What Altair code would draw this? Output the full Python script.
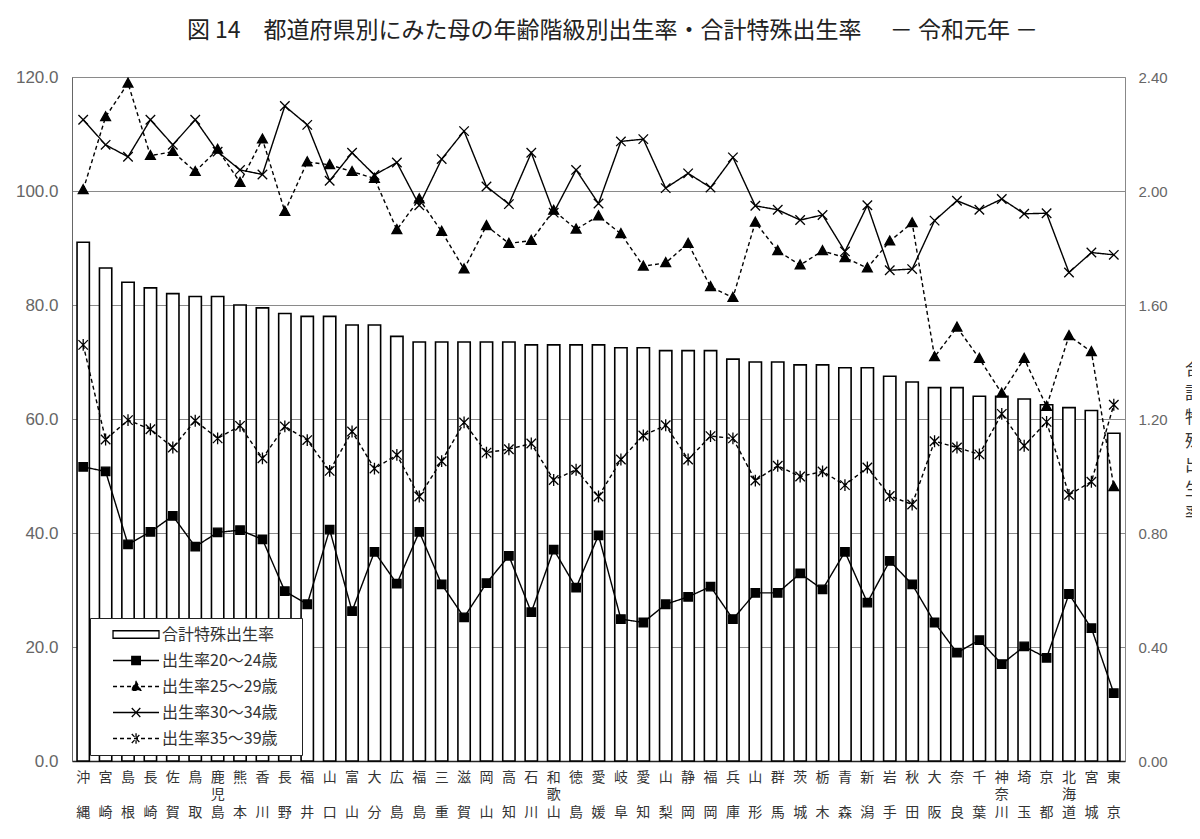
import altair as alt
import pandas as pd

prefs = ["沖縄", "宮崎", "島根", "長崎", "佐賀", "鳥取", "鹿児島", "熊本", "香川", "長野",
         "福井", "山口", "富山", "大分", "広島", "福島", "三重", "滋賀", "岡山", "高知",
         "石川", "和歌山", "徳島", "愛媛", "岐阜", "愛知", "山梨", "静岡", "福岡", "兵庫",
         "山形", "群馬", "茨城", "栃木", "青森", "新潟", "岩手", "秋田", "大阪", "奈良",
         "千葉", "神奈川", "埼玉", "京都", "北海道", "宮城", "東京"]

tfr = [1.82, 1.73, 1.68, 1.66, 1.64, 1.63, 1.63, 1.60, 1.59, 1.57,
       1.56, 1.56, 1.53, 1.53, 1.49, 1.47, 1.47, 1.47, 1.47, 1.47,
       1.46, 1.46, 1.46, 1.46, 1.45, 1.45, 1.44, 1.44, 1.44, 1.41,
       1.40, 1.40, 1.39, 1.39, 1.38, 1.38, 1.35, 1.33, 1.31, 1.31,
       1.28, 1.28, 1.27, 1.25, 1.24, 1.23, 1.15]

r20 = [51.6, 50.8, 38.0, 40.2, 43.0, 37.6, 40.1, 40.5, 38.9, 29.8,
       27.5, 40.6, 26.3, 36.7, 31.1, 40.2, 31.0, 25.2, 31.2, 36.0,
       26.1, 37.1, 30.4, 39.6, 24.9, 24.3, 27.5, 28.8, 30.6, 24.9,
       29.5, 29.5, 32.9, 30.1, 36.7, 27.8, 35.1, 31.0, 24.3, 19.0,
       21.2, 17.0, 20.1, 18.1, 29.3, 23.3, 11.9]

r25 = [100.2, 113.0, 118.9, 106.2, 106.9, 103.4, 107.3, 101.5, 109.1, 96.4,
       105.1, 104.6, 103.4, 102.2, 93.2, 98.6, 92.9, 86.3, 93.9, 90.8,
       91.3, 96.6, 93.3, 95.6, 92.5, 86.8, 87.4, 90.8, 83.2, 81.3,
       94.5, 89.5, 87.0, 89.5, 88.3, 86.5, 91.2, 94.4, 70.9, 76.1,
       70.6, 64.5, 70.6, 62.2, 74.6, 71.8, 48.1]

r30 = [112.5, 108.1, 106.0, 112.5, 108.1, 112.5, 106.9, 103.7, 102.9, 114.9,
       111.6, 101.8, 106.7, 102.8, 105.0, 97.5, 105.6, 110.5, 100.8, 97.7,
       106.7, 96.2, 103.7, 97.8, 108.7, 109.1, 100.5, 103.1, 100.6, 105.9,
       97.4, 96.7, 94.9, 95.8, 89.4, 97.5, 86.1, 86.3, 94.8, 98.3,
       96.7, 98.6, 96.0, 96.1, 85.7, 89.2, 88.8]

r35 = [73.0, 56.4, 59.8, 58.2, 55.0, 59.7, 56.6, 58.8, 53.1, 58.7,
       56.3, 50.9, 57.8, 51.3, 53.7, 46.4, 52.6, 59.4, 54.1, 54.7,
       55.7, 49.3, 51.1, 46.4, 52.9, 57.1, 58.9, 52.9, 57.0, 56.6,
       49.2, 51.8, 49.9, 50.8, 48.4, 51.5, 46.5, 45.0, 56.1, 55.0,
       53.8, 60.9, 55.3, 59.5, 46.7, 49.0, 62.5]

series_names = ["合計特殊出生率", "出生率20～24歳", "出生率25～29歳", "出生率30～34歳", "出生率35～39歳"]
line_values = [r20, r25, r30, r35]

title_text = "図 14　都道府県別にみた母の年齢階級別出生率・合計特殊出生率　 －  令和元年  －"

FONT = "Noto Sans CJK JP"
NUMFONT = "Liberation Sans"

# marker shapes (unit paths)
marker_paths = [
    "M-1,-1H1V1H-1Z",
    "M0,-1.15L1.1,0.85H-1.1Z",
    "M-1,-1L1,1M-1,1L1,-1",
    "M-1,-1L1,1M-1,1L1,-1M0,-1.25V1.25",
]
marker_sizes = [72, 80, 90, 90]
dashes = [[1, 0], [4, 3], [1, 0], [4, 3]]

# legend symbol paths (line + marker)
legend_paths = [
    "M0.87,-0.5H7.0V0.5H0.87Z",
    "M0.87,0H7.0M3.37,-0.55H4.51V0.55H3.37Z",
    "M0.87,0H7.0M3.94,-0.65L4.57,0.5H3.31Z",
    "M0.87,0H7.0M3.37,-0.6L4.51,0.6M3.37,0.6L4.51,-0.6",
    "M0.87,0H7.0M3.37,-0.6L4.51,0.6M3.37,0.6L4.51,-0.6M3.94,-0.7V0.7",
]

ZW = "\u200b"
label_expr = ("length(datum.label) == 2 ? [substring(datum.label,0,1), '" + ZW + "', substring(datum.label,1,2)]"
              " : [substring(datum.label,0,1), substring(datum.label,1,2), substring(datum.label,2,3)]")

x_enc = alt.X(
    "pref:N", sort=prefs,
    scale=alt.Scale(paddingInner=0.45, paddingOuter=0.225),
    axis=alt.Axis(title=None, labelAngle=0, labelExpr=label_expr, labelFont=FONT,
                  labelFontSize=14, labelColor="#333", labelLineHeight=17.5,
                  labelPadding=9, labelOverlap=False, ticks=False,
                  domainColor="#222", domainWidth=1.5, labelBaseline="top"),
)

bar_df = pd.DataFrame({"pref": prefs, "tfr": tfr})

bars = alt.Chart(bar_df).mark_bar(fill="white", stroke="black", strokeWidth=1.6).encode(
    x=x_enc,
    y=alt.Y("tfr:Q", scale=alt.Scale(domain=[0, 2.4], nice=False),
            axis=alt.Axis(orient="right", values=[0, 0.4, 0.8, 1.2, 1.6, 2.0, 2.4], format=".2f",
                          grid=False, domain=False, ticks=False, labelPadding=13,
                          labelFont=NUMFONT, labelFontSize=15, labelColor="#666",
                          title=list("合計特殊出生率"), titleAngle=0, titleFont=FONT,
                          titleFontSize=17, titleFontWeight="normal", titleColor="#333",
                          titleLineHeight=24, titleAlign="center", titleBaseline="top",
                          titleX=68, titleY=284)),
)

y_line = alt.Y("value:Q", scale=alt.Scale(domain=[0, 120], nice=False),
               axis=alt.Axis(orient="left", values=[0, 20, 40, 60, 80, 100, 120], format=".1f",
                             grid=True, gridColor="#8a8a8a", gridWidth=1, domainColor="#666",
                             ticks=False, labelPadding=14, labelFont=NUMFONT, labelFontSize=17,
                             labelColor="#666", title=None))

line_layers = []
for i, name in enumerate(series_names[1:]):
    df = pd.DataFrame({"pref": prefs, "value": line_values[i], "series": name})
    base = alt.Chart(df).encode(x=x_enc, y=y_line)
    line_layers.append(base.mark_line(color="black", strokeWidth=1.4, strokeDash=dashes[i]))

point_layers = []
for i, name in enumerate(series_names[1:]):
    df = pd.DataFrame({"pref": prefs, "value": line_values[i], "series": name})
    base = alt.Chart(df).encode(x=x_enc, y=y_line)
    point_layers.append(base.mark_point(shape=marker_paths[i], size=marker_sizes[i], filled=True,
                                        fill="black", stroke="black", strokeWidth=1.3, opacity=1))

legend_props = dict(title=None, orient="none", legendX=18, legendY=541, padding=8,
                    fillColor="white", strokeColor="#222", labelFont=FONT, labelFontSize=16,
                    labelColor="#333", labelOffset=47, rowPadding=9, symbolSize=225,
                    symbolStrokeWidth=1.3, labelExpr="datum.label + '\u3000\u200b'")

leg_df = pd.DataFrame({"pref": prefs[:5], "value": [0, 0, 0, 0, 0], "series": series_names})
legend_layer = alt.Chart(leg_df).transform_filter("false").mark_point(
    size=225, filled=True, opacity=1, strokeWidth=1.3
).encode(
    x=x_enc, y=y_line,
    shape=alt.Shape("series:N", scale=alt.Scale(domain=series_names, range=legend_paths),
                    legend=alt.Legend(**legend_props)),
    fill=alt.Fill("series:N", scale=alt.Scale(domain=series_names,
                                              range=["white", "black", "black", "black", "black"]),
                  legend=alt.Legend(**legend_props)),
    stroke=alt.Stroke("series:N", scale=alt.Scale(domain=series_names,
                                                  range=["black"] * 5),
                      legend=alt.Legend(**legend_props)),
    strokeDash=alt.StrokeDash("series:N", scale=alt.Scale(domain=series_names,
                                                          range=[[1, 0], [1, 0], [4, 3], [1, 0], [4, 3]]),
                              legend=alt.Legend(**legend_props)),
)

lines = alt.layer(*line_layers, *point_layers, legend_layer)

chart = alt.layer(bars, lines).resolve_scale(y="independent").properties(
    width=1053, height=684,
    title=alt.TitleParams(title_text, font=FONT, fontSize=23, fontWeight="normal", color="#222",
                          offset=25, dx=14),
    autosize=alt.AutoSizeParams(type="none"),
    padding={"left": 64, "top": 69, "right": 67, "bottom": 70},
).configure_view(stroke="#888", strokeWidth=1)

chart.save("out.html", embed_options={"renderer": "svg", "actions": False})
